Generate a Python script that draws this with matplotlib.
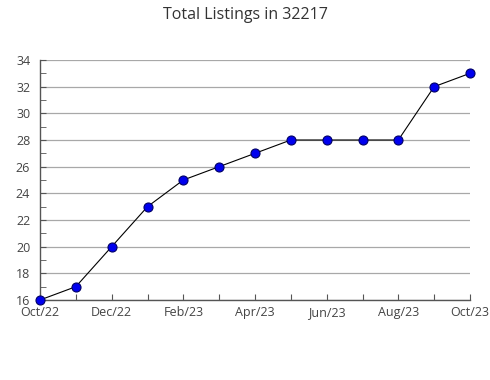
import matplotlib
matplotlib.use("Agg")
import matplotlib.pyplot as plt
from matplotlib.ticker import MultipleLocator

plt.rcParams['font.family'] = ['Open Sans', 'DejaVu Sans']

months = ['Oct/22', 'Nov/22', 'Dec/22', 'Jan/23', 'Feb/23', 'Mar/23', 'Apr/23',
          'May/23', 'Jun/23', 'Jul/23', 'Aug/23', 'Sep/23', 'Oct/23']
listings = [16, 17, 20, 23, 25, 26, 27, 28, 28, 28, 28, 32, 33]

fig = plt.figure(figsize=(4.9, 3.8), dpi=100)
ax = fig.add_axes([40 / 490, 80 / 380, 430 / 490, 240 / 380])

x = list(range(len(months)))
ax.plot(x, listings, color='black', linewidth=0.8, marker='o', markersize=6.5,
        markerfacecolor='#0000ee', markeredgecolor='#000066', markeredgewidth=0.8,
        zorder=3, clip_on=False)

ax.set_xlim(0, len(months) - 1)
ax.set_ylim(16, 34)
ax.yaxis.set_major_locator(MultipleLocator(2))
ax.yaxis.set_minor_locator(MultipleLocator(1))
ax.set_xticks(x)
ax.set_xticklabels([])

# month labels on a shared baseline (J in Open Sans dips below it)
for i in x[::2]:
    ax.text(i, -16 / 240, months[i], transform=ax.get_xaxis_transform(),
            ha='center', va='baseline', fontsize=9, color='#444444')

ax.grid(axis='y', which='major', color='#a8a8a8', linewidth=0.9)
ax.set_axisbelow(True)
for s in ['top', 'right']:
    ax.spines[s].set_visible(False)
for s in ['left', 'bottom']:
    ax.spines[s].set_color('#555555')
    ax.spines[s].set_linewidth(1.0)

ax.tick_params(axis='both', which='both', direction='in', colors='#555555',
               labelcolor='#444444', labelsize=9, length=4.5)
ax.tick_params(axis='y', which='major', pad=7)

fig.text(0.5, 1 - 15 / 380, 'Total Listings in 32217', ha='center', va='center',
         fontsize=11.5, color='#333333')

fig.savefig('out.png', dpi=100)
